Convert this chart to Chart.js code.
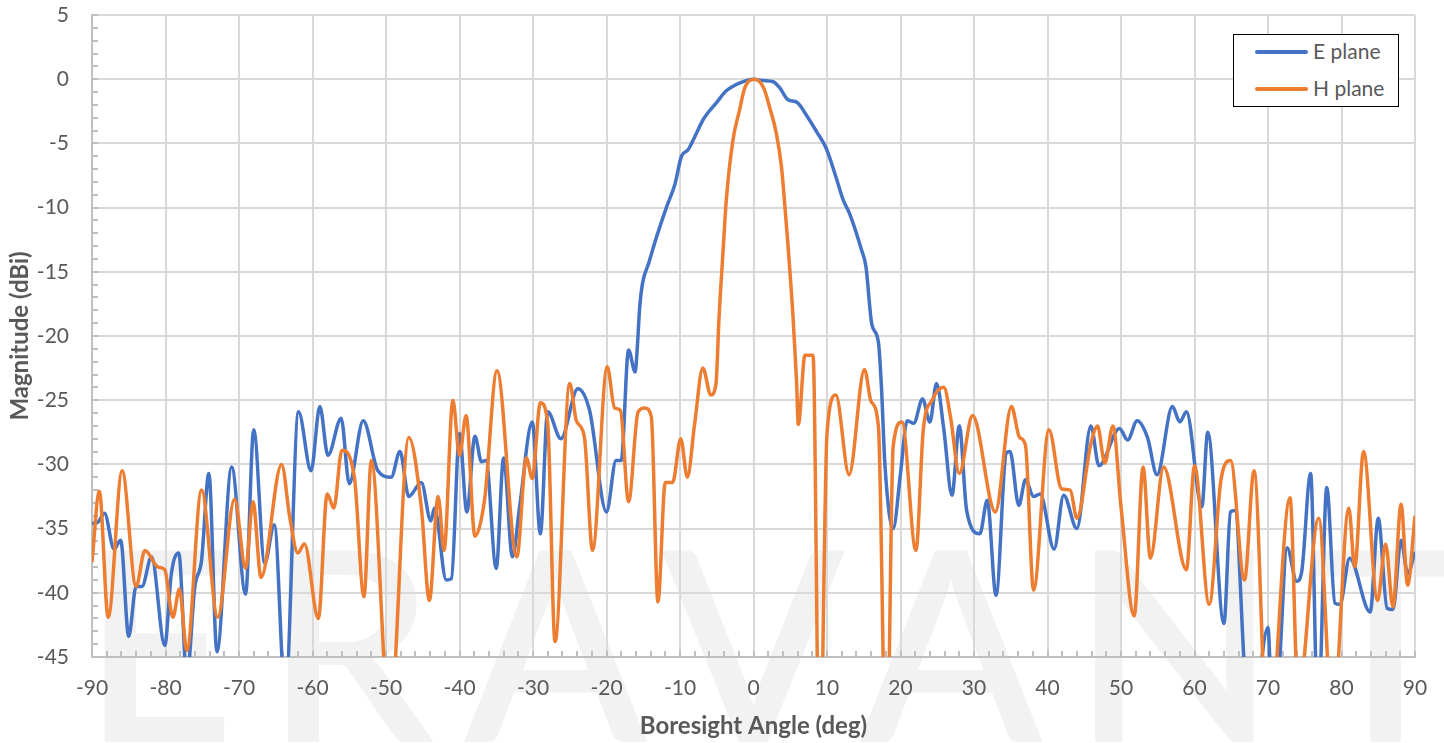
<!DOCTYPE html>
<html>
<head>
<meta charset="utf-8">
<title>E / H plane radiation pattern</title>
<script src="https://cdn.jsdelivr.net/npm/chart.js@4.4.0/dist/chart.umd.min.js"></script>
<style>
  body { margin: 0; background: #fff; }
  #wrap { position: relative; width: 1444px; height: 743px; }
  #legend {
    position: absolute; left: 1233px; top: 34px; width: 164px; height: 71px;
    border: 1.5px solid #000; background: #fff;
    font: 21px Lato, sans-serif; color: #595959;
  }
  #legend .sw { position: absolute; left: 21px; width: 53px; height: 4px; border-radius: 2px; }
  #legend .lb { position: absolute; left: 79px; line-height: 24px; }
</style>
</head>
<body>
<div id="wrap">
  <canvas id="pattern" width="1444" height="743"></canvas>
  <div id="legend">
    <div class="sw" style="top:15px;background:#4472C4"></div><div class="lb" style="top:4px">E plane</div>
    <div class="sw" style="top:52px;background:#ED7D31"></div><div class="lb" style="top:41px">H plane</div>
  </div>
</div>
<script>
// ============================================================
// DATA (angle in deg, magnitude in dBi)
// ============================================================
const eAngle = [
  -90, -89.2, -88.3, -87.0, -86.1, -85.0, -84.0, -83.2, -81.9, -80.1,
  -79.2, -78.2, -77.1, -76.0, -75.1, -74.1, -73.0, -71.0, -69.1, -68.0,
  -66.5, -65.2, -63.7, -61.9, -60.2, -59.0, -57.9, -56.1, -55.0, -53.1,
  -51.1, -49.3, -48.1, -46.9, -45.2, -43.9, -43.4, -41.8, -41.1, -40.0,
  -39.0, -37.9, -37.0, -36.4, -35.0, -34.0, -32.8, -31.8, -30.1, -29.0,
  -28.0, -26.2, -23.9, -22.3, -20.0, -18.7, -18.0, -17.0, -16.1, -15.8,
  -15.5, -15.1, -14.3, -13.2, -11.8, -10.7, -9.8, -8.9, -8.0, -6.8,
  -5.0, -3.7, -1.9, 0, 1.3, 2.7, 3.6, 4.7, 5.9, 7.2,
  8.6, 9.9, 11.1, 12.2, 13.1, 14.7, 15.3, 16.1, 17.0, 17.4,
  17.9, 19.0, 20.0, 20.9, 21.8, 23.0, 24.0, 24.9, 25.9, 27.0,
  28.0, 29.0, 30.8, 31.8, 33.0, 34.4, 34.9, 36.1, 37.0, 38.1,
  39.0, 40.9, 42.2, 44.0, 45.9, 47.0, 49.8, 50.9, 52.2, 53.6,
  54.9, 57.0, 58.0, 58.9, 61.0, 61.8, 64.0, 64.9, 65.5, 66.8,
  67.5, 70.0, 70.6, 71.4, 72.6, 73.9, 74.6, 75.8, 76.8, 78.0,
  79.1, 79.8, 81.1, 83.9, 85.0, 86.2, 87.0, 88.1, 89.0, 90
];
const eGain = [
  -34.6, -34.5, -33.8, -36.6, -35.9, -43.4, -39.5, -39.5, -37.2, -44.1,
  -38.5, -36.9, -46.5, -39.5, -37.5, -30.7, -44.6, -30.2, -40.1, -27.3,
  -37.7, -34.7, -48.0, -25.9, -30.5, -25.5, -29.3, -26.4, -31.5, -26.6,
  -30.5, -31.0, -29.0, -32.5, -31.4, -34.4, -33.4, -39.0, -38.9, -27.6,
  -33.7, -27.8, -29.8, -29.7, -38.1, -29.5, -37.2, -33.2, -26.7, -35.4,
  -25.9, -28.0, -24.1, -25.8, -33.7, -29.7, -29.7, -21.1, -22.8, -20.8,
  -17.9, -15.9, -14.4, -12.3, -9.9, -8.2, -6.0, -5.5, -4.5, -3.1,
  -1.8, -0.9, -0.3, 0, -0.1, -0.2, -0.7, -1.6, -1.8, -2.8,
  -4.1, -5.4, -7.4, -9.4, -10.5, -13.3, -14.6, -19.1, -20.5, -23.9,
  -30.2, -35.0, -30.7, -26.6, -26.8, -24.9, -26.7, -23.7, -27.3, -32.4,
  -27.0, -33.6, -35.4, -32.8, -40.2, -29.1, -29.0, -33.2, -31.2, -32.5,
  -32.3, -36.6, -32.4, -35.0, -27.0, -30.1, -27.2, -28.1, -26.6, -27.9,
  -30.8, -25.5, -26.7, -25.9, -33.3, -27.5, -42.4, -33.7, -33.6, -46.0,
  -52.0, -42.7, -50.0, -47.0, -36.5, -39.1, -38.3, -30.7, -50.0, -31.8,
  -40.8, -40.9, -37.3, -41.5, -34.2, -41.2, -41.3, -35.9, -38.5, -36.8
];

const hAngle = [
  -90, -89.0, -87.8, -85.9, -84.0, -82.8, -81.0, -80.1, -79.0, -78.1,
  -77.1, -75.1, -72.9, -70.6, -69.1, -68.1, -67.0, -64.2, -63.1, -62.0,
  -61.1, -59.2, -58.0, -57.1, -56.0, -54.3, -53.0, -52.0, -49.5, -46.9,
  -45.2, -44.1, -42.9, -42.1, -40.9, -40.0, -39.1, -37.9, -36.6, -34.9,
  -32.2, -30.9, -30.1, -29.0, -28.0, -27.0, -25.0, -24.1, -23.0, -21.9,
  -19.9, -18.9, -18.1, -17.0, -15.7, -14.8, -13.9, -13.0, -12.0, -11.0,
  -9.9, -9.0, -8.0, -6.9, -5.8, -5.1, -4.7, -4.1, -3.7, -2.8,
  -1.9, -1.2, 0.2, 1.4, 2.2, 3.1, 3.8, 4.2, 4.7, 5.4,
  5.85, 6.1, 7.0, 8.1, 9.0, 10.0, 11.2, 13.0, 15.1, 16.0,
  17.0, 18.1, 19.0, 20.2, 22.1, 23.1, 24.3, 25.9, 26.8, 28.0,
  29.8, 32.9, 35.1, 36.2, 37.0, 38.1, 40.2, 41.9, 43.1, 44.0,
  45.9, 46.8, 47.8, 48.9, 50.0, 51.8, 53.0, 54.0, 55.8, 58.9,
  60.0, 62.0, 63.6, 64.9, 66.8, 68.1, 70.0, 73.0, 74.1, 76.9,
  78.8, 81.0, 81.8, 83.0, 84.9, 86.0, 87.0, 88.1, 89.0, 90
];
const hGain = [
  -37.6, -32.1, -41.9, -30.5, -39.5, -36.7, -38.0, -38.2, -41.9, -39.7,
  -44.5, -32.0, -41.9, -32.7, -38.1, -32.9, -38.8, -30.0, -34.1, -36.9,
  -36.2, -42.0, -32.3, -33.4, -28.9, -31.0, -40.3, -29.7, -50.0, -27.9,
  -33.3, -40.6, -32.5, -36.7, -25.0, -29.3, -26.2, -35.6, -32.8, -22.7,
  -37.2, -29.5, -31.1, -25.2, -26.8, -43.8, -23.7, -26.6, -27.9, -36.7,
  -22.4, -25.6, -25.8, -32.9, -25.9, -25.6, -26.3, -40.7, -31.4, -31.4,
  -28.0, -31.0, -26.8, -22.5, -24.6, -23.7, -18.7, -13.0, -9.4, -4.75,
  -2.4, -0.7, 0, -0.7, -2.2, -4.2, -6.8, -9.4, -13.0, -18.7,
  -23.4, -26.9, -21.5, -21.5, -55.0, -27.6, -24.6, -30.8, -22.6, -25.1,
  -27.1, -55.0, -28.6, -26.7, -36.7, -27.3, -25.0, -24.0, -26.3, -30.7,
  -26.2, -33.7, -25.5, -27.9, -28.5, -39.8, -27.3, -31.9, -32.0, -34.2,
  -28.4, -27.0, -29.9, -27.0, -33.3, -41.8, -30.2, -37.3, -30.2, -38.2,
  -30.1, -40.9, -31.2, -29.7, -39.0, -30.5, -52.0, -32.6, -48.0, -34.2,
  -50.0, -33.4, -38.0, -29.0, -40.6, -36.2, -41.1, -33.1, -39.4, -34.0
];

const xTickStep = 10;
const yTickStep = 5;

const toPoints = (xs, ys) => xs.map((x, i) => ({ x, y: ys[i] }));

// ============================================================
// PLUGINS
// ============================================================

// light "ERAVANT" watermark behind everything
const watermark = {
  id: 'watermark',
  beforeDraw(chart) {
    const ctx = chart.ctx;
    ctx.save();
    ctx.fillStyle = '#f2f2f2';
    ctx.font = '600 266px Lato, sans-serif';
    ctx.letterSpacing = '30px';
    ctx.textBaseline = 'alphabetic';
    ctx.fillText('ERAVANT', 82, 742);
    ctx.restore();
  }
};

// small inner tick marks along the two axes
const minorTicks = {
  id: 'minorTicks',
  beforeDatasetsDraw(chart) {
    const { ctx, chartArea, scales } = chart;
    const x = scales.x, y = scales.y;
    ctx.save();
    ctx.strokeStyle = '#bfbfbf';
    ctx.lineWidth = 2;
    ctx.beginPath();
    for (let v = y.min; v <= y.max; v += 1) {
      const py = Math.round(y.getPixelForValue(v));
      ctx.moveTo(chartArea.left, py);
      ctx.lineTo(chartArea.left + 6, py);
    }
    for (let v = x.min; v <= x.max; v += 2) {
      const px = Math.round(x.getPixelForValue(v));
      ctx.moveTo(px, chartArea.bottom);
      ctx.lineTo(px, chartArea.bottom - 6);
    }
    ctx.stroke();
    ctx.restore();
  }
};

// ============================================================
// CHART
// ============================================================
const tickFont = { family: 'Lato, sans-serif', size: 21 };
const titleFont = { family: 'Lato, sans-serif', size: 24, weight: 'bold' };

new Chart(document.getElementById('pattern'), {
  type: 'line',
  data: {
    datasets: [
      {
        label: 'E plane',
        data: toPoints(eAngle, eGain),
        borderColor: '#4472C4',
        borderWidth: 3.5,
        pointRadius: 0,
        cubicInterpolationMode: 'monotone',
        order: 2
      },
      {
        label: 'H plane',
        data: toPoints(hAngle, hGain),
        borderColor: '#ED7D31',
        borderWidth: 3.5,
        pointRadius: 0,
        cubicInterpolationMode: 'monotone',
        order: 1
      }
    ]
  },
  options: {
    responsive: false,
    animation: false,
    layout: { padding: { top: 15, right: 29, left: 0, bottom: 0 } },
    plugins: {
      legend: { display: false },
      tooltip: { enabled: false }
    },
    scales: {
      x: {
        type: 'linear',
        min: -90,
        max: 90,
        afterFit: s => { s.height = 86; s.paddingLeft = 0; s.paddingRight = 0; },
        ticks: { stepSize: xTickStep, color: '#595959', font: tickFont, padding: 19, maxRotation: 0 },
        grid: { color: '#d9d9d9', lineWidth: 2, drawTicks: false },
        border: { color: '#bfbfbf', width: 2 },
        title: {
          display: true, text: 'Boresight Angle (deg)', color: '#595959',
          font: titleFont, padding: { top: 0, bottom: 2 }
        }
      },
      y: {
        min: -45,
        max: 5,
        afterFit: s => { s.width = 92; s.paddingTop = 0; s.paddingBottom = 0; },
        ticks: { stepSize: yTickStep, color: '#595959', font: tickFont, padding: 23 },
        grid: { color: '#d9d9d9', lineWidth: 2, drawTicks: false },
        border: { color: '#bfbfbf', width: 2 },
        title: {
          display: true, text: 'Magnitude (dBi)', color: '#595959',
          font: titleFont, padding: { top: 6, bottom: 0 }
        }
      }
    }
  },
  plugins: [watermark, minorTicks]
});
</script>
</body>
</html>
